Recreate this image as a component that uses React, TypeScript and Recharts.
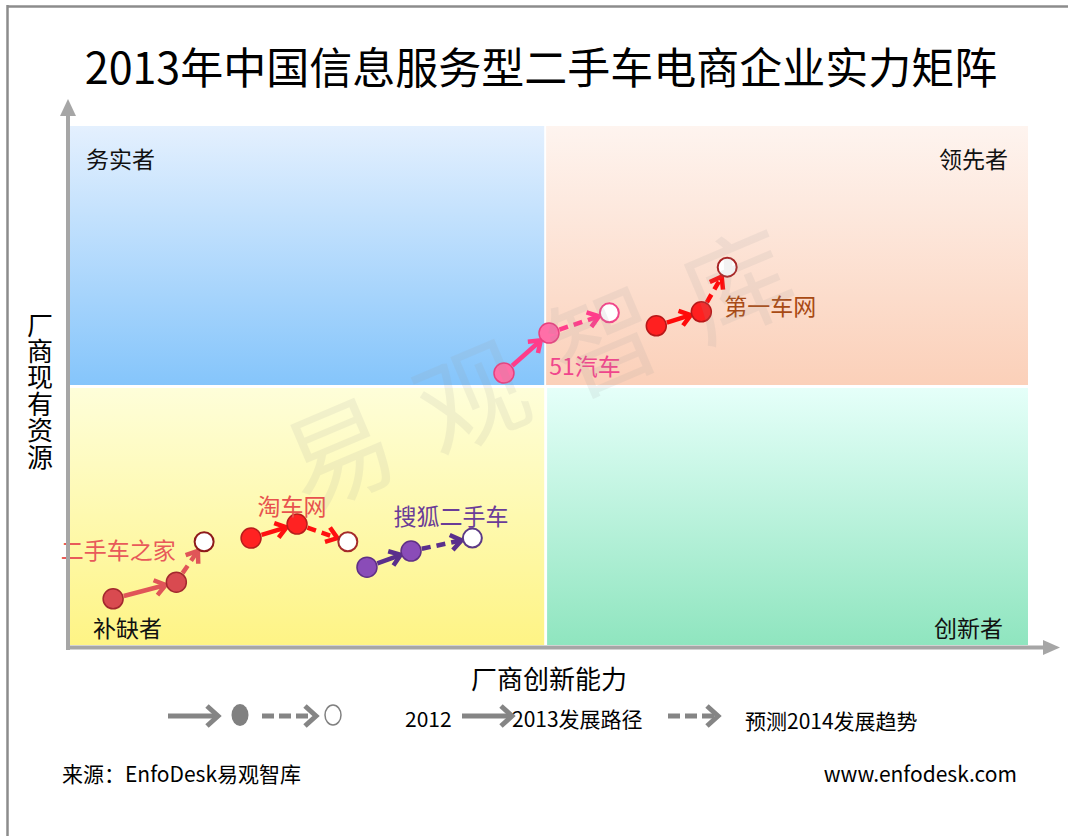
import React from "react";
import { ScatterChart, Scatter, XAxis, YAxis, ReferenceArea, ReferenceLine } from "recharts";

// 厂商创新能力 (x) / 厂商现有资源 (y), 0-100 scale
const companies = ["二手车之家", "淘车网", "搜狐二手车", "51汽车", "第一车网"];
const innovation2012 = [4.5, 18.9, 31.0, 45.3, 61.2];
const resources2012 = [8.9, 20.6, 15.0, 52.4, 61.5];
const innovation2013 = [11.1, 23.7, 35.6, 50.0, 65.9];
const resources2013 = [12.1, 23.3, 18.1, 60.1, 64.2];
const innovation2014 = [14.0, 29.0, 42.0, 56.3, 68.6];
const resources2014 = [19.9, 19.9, 20.6, 64.0, 72.8];

const quadrantNames = ["务实者", "领先者", "补缺者", "创新者"];

const FONT = '"Noto Sans CJK SC", "Noto Sans", sans-serif';

// per-company styling (label offset relative to the 2013 point, px)
const STYLES = [
  { fill: "#d94a50", edge: "#a3282e", arrow: "#e05558", open: "#8e1a1a", label: "#e85a5a", dx: -58, dy: -33 },
  { fill: "#ff2222", edge: "#b81c1c", arrow: "#ff1010", open: "#a52a2a", label: "#e8524e", dx: -5, dy: -19 },
  { fill: "#8a4cb8", edge: "#5f2f86", arrow: "#5a2f8c", open: "#5c3a86", label: "#6a3c98", dx: 40, dy: -36 },
  { fill: "#ff6fa8", edge: "#e8407f", arrow: "#ff3d8b", open: "#f0468a", label: "#f0468c", dx: 36, dy: 32 },
  { fill: "#ff2020", edge: "#b81818", arrow: "#ff0a0a", open: "#a82424", label: "#a84a14", dx: 69, dy: -7 },
];

const toPoints = (xs: number[], ys: number[]) =>
  companies.map((name, i) => ({ x: xs[i], y: ys[i], name, i }));

const data2012 = toPoints(innovation2012, resources2012);
const data2013 = toPoints(innovation2013, resources2013);
const data2014 = toPoints(innovation2014, resources2014);

function arrowShape(color: string, dashed: boolean, gap = 11) {
  return (p: any) => {
    const { x1, y1, x2, y2 } = p;
    const len = Math.hypot(x2 - x1, y2 - y1) || 1;
    const ux = (x2 - x1) / len;
    const uy = (y2 - y1) / len;
    const sx = x1 + ux * gap;
    const sy = y1 + uy * gap;
    const ex = x2 - ux * gap;
    const ey = y2 - uy * gap;
    const head = 13;
    const a = Math.PI / 5;
    const wing = (ang: number) => {
      const c = Math.cos(ang), s = Math.sin(ang);
      return [ex - head * (ux * c - uy * s), ey - head * (ux * s + uy * c)];
    };
    const w1 = wing(a);
    const w2 = wing(-a);
    return (
      <g>
        <line x1={sx} y1={sy} x2={ex - ux * 2} y2={ey - uy * 2} stroke={color} strokeWidth={4.5}
          strokeDasharray={dashed ? "9 6" : undefined} />
        <polyline points={`${w1[0]},${w1[1]} ${ex},${ey} ${w2[0]},${w2[1]}`} fill="none"
          stroke={color} strokeWidth={4.5} strokeLinejoin="miter" />
      </g>
    );
  };
}

const QuadLabel = ({ viewBox, text, corner }: any) => {
  if (!viewBox) return null;
  const { x, y, width, height } = viewBox;
  const left = corner === "tl" || corner === "bl";
  const top = corner === "tl" || corner === "tr";
  const tx = left ? x + (top ? 16 : 23) : x + width - (top ? 20 : 25);
  const ty = top ? y + 32 : y + height - 18;
  return (
    <text x={tx} y={ty} textAnchor={left ? "start" : "end"} dominantBaseline="central"
      fontFamily={FONT} fontSize={23} fill="#111">{text}</text>
  );
};

function LegendArrow({ x1, x2, y, dashed }: { x1: number; x2: number; y: number; dashed?: boolean }) {
  return (
    <g>
      <line x1={x1} y1={y} x2={x2 - 3} y2={y} stroke="#858585" strokeWidth={5}
        strokeDasharray={dashed ? "12 5" : undefined} />
      <polyline points={`${x2 - 11},${y - 10} ${x2},${y} ${x2 - 11},${y + 10}`} fill="none"
        stroke="#858585" strokeWidth={5} />
    </g>
  );
}

export default function App() {
  return (
    <div style={{ position: "absolute", left: 0, top: 0, width: 1068, height: 836, background: "#fff", overflow: "hidden" }}>
      <div style={{ position: "absolute", left: 0, top: 0 }}>
        <ScatterChart width={1068} height={836} margin={{ top: 126, right: 40, bottom: 191, left: 70 }}>
          <defs>
            <linearGradient id="gTL" x1="0" y1="0" x2="0" y2="1">
              <stop offset="0%" stopColor="#e4f0fe" />
              <stop offset="100%" stopColor="#85c5fb" />
            </linearGradient>
            <linearGradient id="gTR" x1="0" y1="0" x2="0" y2="1">
              <stop offset="0%" stopColor="#fef4ef" />
              <stop offset="100%" stopColor="#fbd0b9" />
            </linearGradient>
            <linearGradient id="gBL" x1="0" y1="0" x2="0" y2="1">
              <stop offset="0%" stopColor="#fefed9" />
              <stop offset="100%" stopColor="#fef485" />
            </linearGradient>
            <linearGradient id="gBR" x1="0" y1="0" x2="0" y2="1">
              <stop offset="0%" stopColor="#e5fff9" />
              <stop offset="100%" stopColor="#8fe5bf" />
            </linearGradient>
          </defs>
          <XAxis type="number" dataKey="x" domain={[0, 100]} hide />
          <YAxis type="number" dataKey="y" domain={[0, 100]} hide />

          <ReferenceArea x1={0} x2={49.5} y1={50.1} y2={100} fill="url(#gTL)" fillOpacity={1} stroke="none"
            label={<QuadLabel text={quadrantNames[0]} corner="tl" />} />
          <ReferenceArea x1={49.7} x2={100} y1={50.1} y2={100} fill="url(#gTR)" fillOpacity={1} stroke="none"
            label={<QuadLabel text={quadrantNames[1]} corner="tr" />} />
          <ReferenceArea x1={0} x2={49.5} y1={0} y2={49.5} fill="url(#gBL)" fillOpacity={1} stroke="none"
            label={<QuadLabel text={quadrantNames[2]} corner="bl" />} />
          <ReferenceArea x1={49.8} x2={100} y1={0} y2={49.5} fill="url(#gBR)" fillOpacity={1} stroke="none"
            label={<QuadLabel text={quadrantNames[3]} corner="br" />} />

          {companies.map((name, i) => (
            <ReferenceLine key={`a1-${name}`}
              segment={[{ x: innovation2012[i], y: resources2012[i] }, { x: innovation2013[i], y: resources2013[i] }]}
              shape={arrowShape(STYLES[i].arrow, false)} />
          ))}
          {companies.map((name, i) => (
            <ReferenceLine key={`a2-${name}`}
              segment={[{ x: innovation2013[i], y: resources2013[i] }, { x: innovation2014[i], y: resources2014[i] }]}
              shape={arrowShape(STYLES[i].arrow, true)} />
          ))}

          <Scatter name="2012" data={data2012} isAnimationActive={false}
            shape={(p: any) => (
              <circle cx={p.cx} cy={p.cy} r={10} fill={STYLES[p.payload.i].fill}
                stroke={STYLES[p.payload.i].edge} strokeWidth={1.5} />
            )} />
          <Scatter name="2013" data={data2013} isAnimationActive={false}
            shape={(p: any) => (
              <circle cx={p.cx} cy={p.cy} r={10} fill={STYLES[p.payload.i].fill}
                stroke={STYLES[p.payload.i].edge} strokeWidth={1.5} />
            )} />
          <Scatter name="2014" data={data2014} isAnimationActive={false}
            shape={(p: any) => (
              <circle cx={p.cx} cy={p.cy} r={9.5} fill="#fff"
                stroke={STYLES[p.payload.i].open} strokeWidth={2} />
            )} />
          <Scatter name="labels" data={data2013} isAnimationActive={false}
            shape={(p: any) => {
              const s = STYLES[p.payload.i];
              return (
                <text x={p.cx + s.dx} y={p.cy + s.dy} textAnchor="middle" dominantBaseline="central"
                  fontFamily={FONT} fontSize={23} fill={s.label}>{p.payload.name}</text>
              );
            }} />
        </ScatterChart>
      </div>

      <svg width={1068} height={836} style={{ position: "absolute", left: 0, top: 0, pointerEvents: "none" }}
        fontFamily={FONT}>
        {/* frame */}
        <line x1={7} y1={6.5} x2={1068} y2={6.5} stroke="#8c8c8c" strokeWidth={2.5} />
        <line x1={7.5} y1={5} x2={7.5} y2={836} stroke="#8c8c8c" strokeWidth={2.5} />

        <text x={541} y={65} textAnchor="middle" dominantBaseline="central" fontSize={43} fill="#000">
          2013年中国信息服务型二手车电商企业实力矩阵
        </text>

        {/* axes */}
        <line x1={68} y1={650} x2={68} y2={112} stroke="#a6a6a6" strokeWidth={4} />
        <polygon points="68,99 60,116 76,116" fill="#a6a6a6" />
        <line x1={66} y1={647.5} x2={1046} y2={647.5} stroke="#a6a6a6" strokeWidth={4} />
        <polygon points="1060,647.5 1043,640 1043,655" fill="#a6a6a6" />

        <text x={549} y={677} textAnchor="middle" dominantBaseline="central" fontSize={26} fill="#000">
          厂商创新能力
        </text>
        <text x={40} y={391} textAnchor="middle" fontSize={26} fill="#000"
          style={{ writingMode: "vertical-rl" }} letterSpacing={0.4}>
          厂商现有资源
        </text>

        {/* watermark */}
        <text x={552} y={356} textAnchor="middle" dominantBaseline="central" fontSize={108}
          letterSpacing={36} fill="#9a9a9a" opacity={0.12} transform="rotate(-23 552 356)">
          易观智库
        </text>

        {/* legend */}
        <LegendArrow x1={168} x2={218} y={716} />
        <ellipse cx={240} cy={715} rx={8.5} ry={11} fill="#808080" />
        <LegendArrow x1={262} x2={316} y={716} dashed />
        <ellipse cx={333} cy={715} rx={8} ry={10} fill="#fff" stroke="#808080" strokeWidth={1.5} />
        <text x={405} y={718} dominantBaseline="central" fontSize={21} fill="#000">2012</text>
        <LegendArrow x1={462} x2={512} y={716} />
        <text x={512} y={718} dominantBaseline="central" fontSize={21} fill="#000">2013发展路径</text>
        <LegendArrow x1={668} x2={718} y={716} dashed />
        <text x={745} y={720} dominantBaseline="central" fontSize={21} fill="#000">预测2014发展趋势</text>

        {/* footer */}
        <text x={62} y={773} dominantBaseline="central" fontSize={21} fill="#000">来源：EnfoDesk易观智库</text>
        <text x={1017} y={773} textAnchor="end" dominantBaseline="central" fontSize={21} fill="#000">
          www.enfodesk.com
        </text>
      </svg>
    </div>
  );
}
